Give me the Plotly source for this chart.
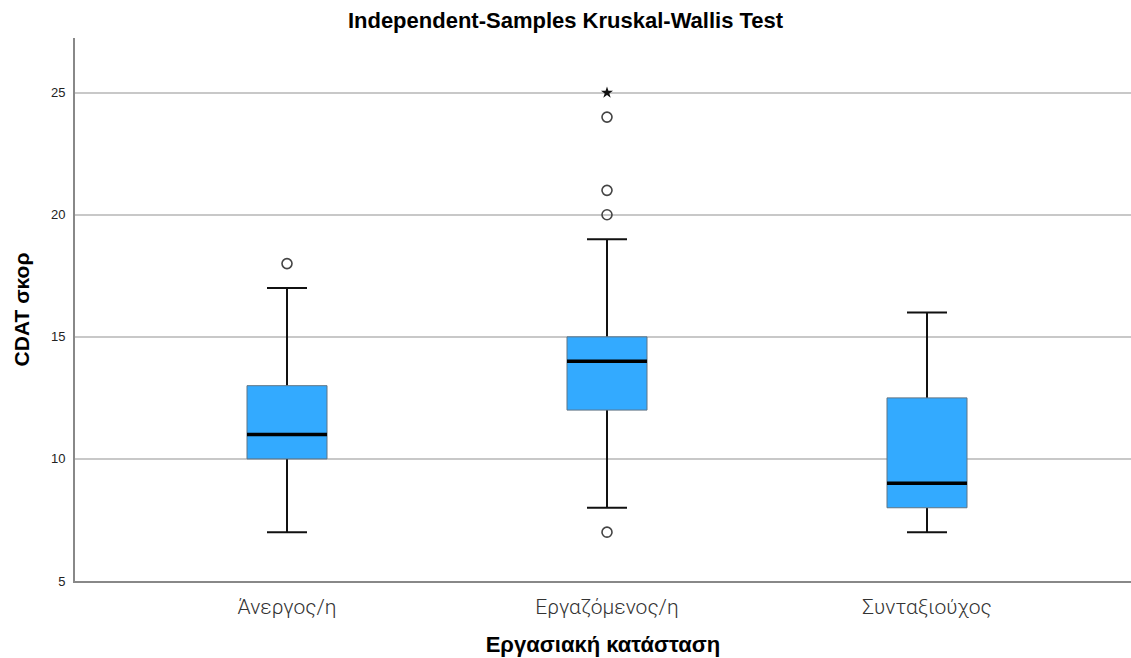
import plotly.graph_objects as go

# Box-plot summary per employment status group
categories = ["Άνεργος/η", "Εργαζόμενος/η", "Συνταξιούχος"]
lower_whisker = [7, 8, 7]
q1 = [10, 12, 8]
median = [11, 14, 9]
q3 = [13, 15, 12.5]
upper_whisker = [17, 19, 16]
# Outliers (circles) and extreme values (stars)
outliers = [[18], [7, 20, 21, 24], []]
extremes = [[], [25], []]

y_ticks = [5, 10, 15, 20, 25]

BOX_HALF = 0.125
CAP_HALF = 0.0625
pos = list(range(len(categories)))

fig = go.Figure()

# Whiskers and caps
wx, wy = [], []
for i in pos:
    wx += [i, i, None, i, i, None]
    wy += [lower_whisker[i], q1[i], None, q3[i], upper_whisker[i], None]
    for v in (lower_whisker[i], upper_whisker[i]):
        wx += [i - CAP_HALF, i + CAP_HALF, None]
        wy += [v, v, None]
fig.add_trace(go.Scatter(x=wx, y=wy, mode="lines",
                         line=dict(color="#111111", width=2),
                         hoverinfo="skip", showlegend=False))

# Boxes (interquartile range)
bx, by = [], []
for i in pos:
    bx += [i - BOX_HALF, i + BOX_HALF, i + BOX_HALF, i - BOX_HALF, i - BOX_HALF, None]
    by += [q1[i], q1[i], q3[i], q3[i], q1[i], None]
fig.add_trace(go.Scatter(x=bx, y=by, mode="lines", fill="toself",
                         fillcolor="#33aaff",
                         line=dict(color="#5f7485", width=1),
                         hoverinfo="skip", showlegend=False))

# Medians
mx, my = [], []
for i in pos:
    mx += [i - BOX_HALF, i + BOX_HALF, None]
    my += [median[i], median[i], None]
fig.add_trace(go.Scatter(x=mx, y=my, mode="lines",
                         line=dict(color="#000000", width=3.5),
                         hoverinfo="skip", showlegend=False))

# Outliers
ox, oy = [], []
for i in pos:
    for v in outliers[i]:
        ox.append(i)
        oy.append(v)
fig.add_trace(go.Scatter(x=ox, y=oy, mode="markers",
                         marker=dict(symbol="circle-open", size=10,
                                     color="#444444", line=dict(width=1.6)),
                         showlegend=False))

# Extreme values
ex, ey = [], []
for i in pos:
    for v in extremes[i]:
        ex.append(i)
        ey.append(v)
fig.add_trace(go.Scatter(x=ex, y=ey, mode="markers",
                         marker=dict(symbol="star", size=9, color="#111111"),
                         showlegend=False))

fig.update_layout(
    width=1131, height=658,
    margin=dict(l=75, r=0, t=38, b=77),
    paper_bgcolor="white", plot_bgcolor="white",
    font=dict(family="Liberation Sans, Arial, sans-serif", color="#000000"),
    title=dict(text="<b>Independent-Samples Kruskal-Wallis Test</b>",
               x=0.5, xanchor="center", y=1 - 20 / 658, yanchor="middle",
               font=dict(size=22, color="#000000")),
)

fig.update_xaxes(
    range=[-0.6625, 2.6375],
    tickvals=pos, ticktext=categories,
    tickfont=dict(family="Roboto, Liberation Sans, sans-serif", size=21,
                  color="#333333", weight=300),
    ticklabelstandoff=6,
    showgrid=False, zeroline=False,
    showline=True, linecolor="#888888", linewidth=2,
    ticks="", ticklen=0,
    title=dict(text="<b>Εργασιακή κατάσταση</b>", font=dict(size=22), standoff=18),
)

fig.update_yaxes(
    range=[5, 27.24],
    tickvals=y_ticks,
    tickfont=dict(size=13, color="#222222"),
    ticklabelstandoff=5,
    showgrid=True, gridcolor="#c8c8c8", gridwidth=1.5,
    zeroline=False,
    showline=True, linecolor="#888888", linewidth=2,
    ticks="", ticklen=0,
    title=dict(text="<b>CDAT σκορ</b>", font=dict(size=21), standoff=16),
)

fig.write_html("out.html")
